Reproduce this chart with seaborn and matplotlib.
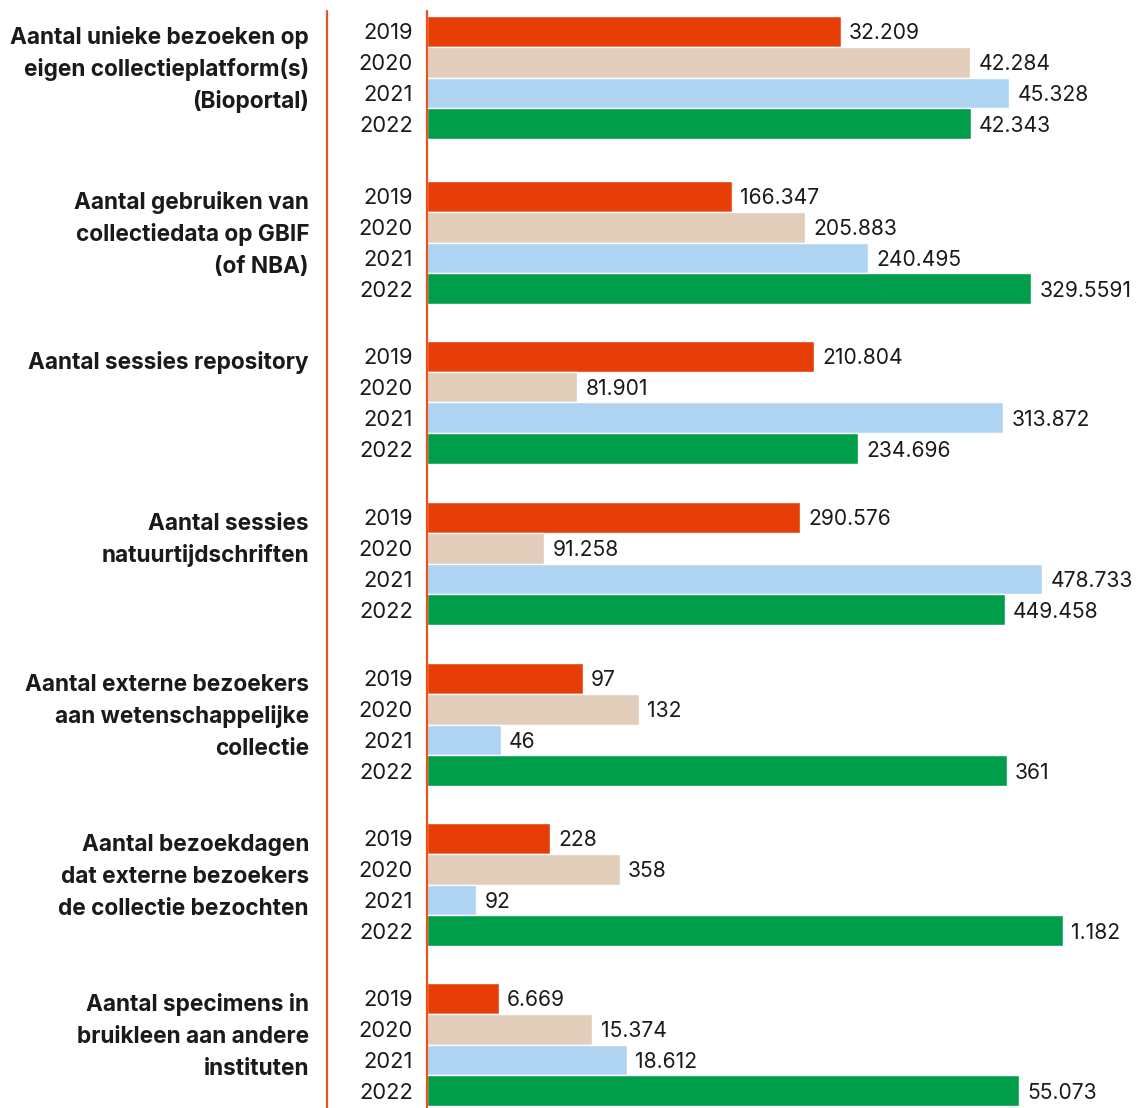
import matplotlib
matplotlib.use('Agg')
import matplotlib.pyplot as plt
import matplotlib.transforms as mtransforms
from matplotlib.lines import Line2D
import seaborn as sns
import pandas as pd

# data
years = ['2019', '2020', '2021', '2022']

categories = [
    'Aantal unieke bezoeken op\neigen collectieplatform(s)\n(Bioportal)',
    'Aantal gebruiken van\ncollectiedata op GBIF\n(of NBA)',
    'Aantal sessies repository',
    'Aantal sessies\nnatuurtijdschriften',
    'Aantal externe bezoekers\naan wetenschappelijke\ncollectie',
    'Aantal bezoekdagen\ndat externe bezoekers\nde collectie bezochten',
    'Aantal specimens in\nbruikleen aan andere\ninstituten',
]

bioportal = [32209, 42284, 45328, 42343]
gbif = [166347, 205883, 240495, 329559.1]
repository = [210804, 81901, 313872, 234696]
tijdschriften = [290576, 91258, 478733, 449458]
bezoekers = [97, 132, 46, 361]
bezoekdagen = [228, 358, 92, 1182]
bruikleen = [6669, 15374, 18612, 55073]

bioportal_labels = ['32.209', '42.284', '45.328', '42.343']
gbif_labels = ['166.347', '205.883', '240.495', '329.5591']
repository_labels = ['210.804', '81.901', '313.872', '234.696']
tijdschriften_labels = ['290.576', '91.258', '478.733', '449.458']
bezoekers_labels = ['97', '132', '46', '361']
bezoekdagen_labels = ['228', '358', '92', '1.182']
bruikleen_labels = ['6.669', '15.374', '18.612', '55.073']

series = [bioportal, gbif, repository, tijdschriften, bezoekers, bezoekdagen, bruikleen]
series_labels = [bioportal_labels, gbif_labels, repository_labels, tijdschriften_labels,
                 bezoekers_labels, bezoekdagen_labels, bruikleen_labels]

# every group has its own scale: right edge of the axis per group
axis_max = [55200, 386600, 386400, 551800, 441.5, 1318, 65950]

colors = ['#E73E08', '#E1CDB9', '#AED4F1', '#009E4A']
line_color = '#E8531E'
text_color = '#1a1a1a'

# layout in pixels
W, H = 1136, 1108
x_axis = 427
group_tops = [16, 181, 341, 502, 663, 823, 983]
row_h = 30.75
grp_h = 4 * row_h

sns.set_style('white')
plt.rcParams['font.family'] = ['Inter', 'DejaVu Sans']

fig = plt.figure(figsize=(W / 100, H / 100), dpi=100)

for g, (title, vals, labs) in enumerate(zip(categories, series, series_labels)):
    top = group_tops[g]
    ax = fig.add_axes([x_axis / W, 1 - (top + grp_h) / H, (W - x_axis) / W, grp_h / H])

    df = pd.DataFrame({'jaar': years, 'waarde': vals})
    sns.barplot(data=df, x='waarde', y='jaar', hue='jaar', palette=colors,
                saturation=1, width=1.0, legend=False, ax=ax)

    ax.set_xlim(0, axis_max[g])
    ax.set_ylim(3.5, -0.5)
    ax.set_xlabel('')
    ax.set_ylabel('')
    ax.set_xticks([])
    sns.despine(ax=ax, left=True, bottom=True)
    ax.tick_params(axis='y', length=0, pad=10, labelsize=15.8, labelcolor=text_color)

    # value labels right of the bars
    for cont in ax.containers:
        labels = [labs[int(round(b.get_y() + b.get_height() / 2))] for b in cont]
        texts = ax.bar_label(cont, labels=labels, padding=6, fontsize=15.2, color=text_color)
        for t in texts:
            t.set_va('center_baseline')

    # bold category text on the left, one line at a time
    blend = mtransforms.blended_transform_factory(fig.transFigure, ax.transData)
    for i, line in enumerate(title.split('\n')):
        ax.text(309 / W, 0.40 + i * 32 / row_h, line, transform=blend,
                ha='right', va='baseline', fontsize=16.3, fontweight='bold',
                color=text_color)

# the two orange vertical rules
for x in [327, 426.5]:
    fig.add_artist(Line2D([x / W, x / W], [1 - 11 / H, 0], transform=fig.transFigure,
                          color=line_color, lw=1.6))

fig.savefig('out.png', dpi=100)
